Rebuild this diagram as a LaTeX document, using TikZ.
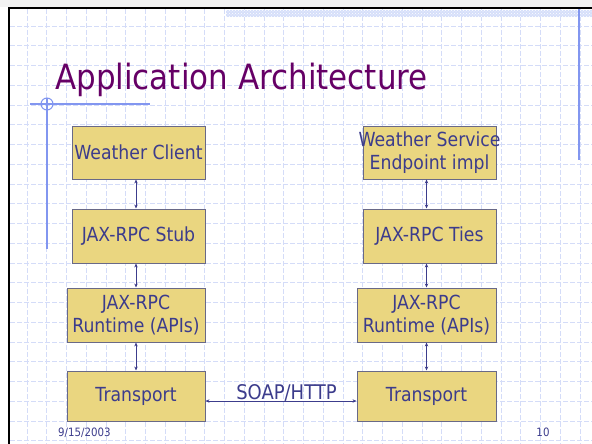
\documentclass[tikz,border=0pt]{standalone}
\usepackage{fontspec}
\setmainfont{DejaVu Sans}
\newfontfamily\narrowfont[FakeStretch=0.89]{DejaVu Sans}
\usetikzlibrary{arrows.meta,patterns}
\definecolor{boxfill}{RGB}{234,214,128}
\definecolor{boxline}{RGB}{105,105,135}
\definecolor{txtblue}{RGB}{60,60,140}
\definecolor{titlepurple}{RGB}{102,0,102}
\definecolor{gridblue}{RGB}{212,220,248}
\definecolor{decoblue}{RGB}{130,150,240}
\definecolor{bandblue}{RGB}{214,223,250}
\begin{document}
\begin{tikzpicture}[x=1pt,y=-1pt,
  box/.style={draw=boxline, line width=1pt, fill=boxfill, inner sep=0pt, text=txtblue, align=center, font=\narrowfont\fontsize{19.4}{23}\selectfont},
  boxtext/.style={text=txtblue, align=center, inner sep=0pt, font=\narrowfont\fontsize{19.4}{23}\selectfont},
  link/.style={draw=txtblue, line width=0.8pt, {Stealth[length=4pt,width=3.4pt]}-{Stealth[length=4pt,width=3.4pt]}},
  gridline/.style={draw=gridblue, line width=0.8pt, dash pattern=on 5pt off 2pt},
  deco/.style={draw=decoblue, line width=1.2pt},
  foot/.style={text=txtblue, inner sep=0pt, font=\narrowfont\fontsize{11.5}{13}\selectfont}
  ]
\useasboundingbox (0,0) rectangle (592,444);
\fill[white] (0,0) rectangle (592,444);
\fill[gray!10] (0,0) rectangle (592,7);
% grid
\foreach \i in {0,...,28} \draw[gridline] ({27+19.75*\i},9) -- ({27+19.75*\i},444);
\foreach \j in {0,...,21} \draw[gridline] (10,{26+19.75*\j}) -- (592,{26+19.75*\j});
% top band
\fill[bandblue] (226,10) rectangle (592,17);
\fill[pattern=crosshatch dots, pattern color=white] (226,10) rectangle (592,17);
% border
\draw[black, line width=2.5pt] (9.2,444) -- (9.2,8.2) -- (592,8.2);
% decorations
\draw[deco] (579,9) -- (579,160);
\draw[deco] (30,104) -- (150,104);
\draw[deco] (47,98) -- (47,249);
\draw[deco, line width=1pt] (47,104) circle[radius=6];
% title
\node[anchor=base west, text=titlepurple, inner sep=0pt, font=\narrowfont\fontsize{34.8}{35}\selectfont] (title) at (55,89) {Application Architecture};
% left column
\node[box, minimum width=133pt, minimum height=53pt] (wc) at (138.5,152.5) {Weather Client};
\node[box, minimum width=133pt, minimum height=54pt] (stub) at (138.5,236) {JAX-RPC Stub};
\node[box, minimum width=138pt, minimum height=54pt] (rt) at (136,315) {JAX-RPC\\Runtime (APIs)};
\node[box, minimum width=138pt, minimum height=50pt] (tr) at (136,396) {Transport};
% right column
\node[box, minimum width=133pt, minimum height=53pt] (ws) at (429.5,152.5) {};
\node[boxtext] (wst) at (ws.center) {Weather Service\\Endpoint impl};
\node[box, minimum width=133pt, minimum height=54pt] (ties) at (429.5,236) {JAX-RPC Ties};
\node[box, minimum width=139pt, minimum height=54pt] (rt2) at (426.5,315) {JAX-RPC\\Runtime (APIs)};
\node[box, minimum width=139pt, minimum height=50pt] (tr2) at (426.5,396) {Transport};
% connectors
\draw[link] (wc.south -| rt.center) -- (stub.north -| rt.center);
\draw[link] (stub.south -| rt.center) -- (rt.north);
\draw[link] (rt.south) -- (tr.north);
\draw[link] (ws.south -| rt2.center) -- (ties.north -| rt2.center);
\draw[link] (ties.south -| rt2.center) -- (rt2.north);
\draw[link] (rt2.south) -- (tr2.north);
\draw[link] ([yshift=-5pt]tr.east) -- ([yshift=-5pt]tr2.west);
\node[boxtext, anchor=base, font=\narrowfont\fontsize{20.2}{20}\selectfont] (soap) at (286.5,399) {SOAP/HTTP};
% footer
\node[foot, anchor=base west] (date) at (58,436) {9/15/2003};
\node[foot, anchor=base] (page) at (543,436) {10};
\end{tikzpicture}
\end{document}
